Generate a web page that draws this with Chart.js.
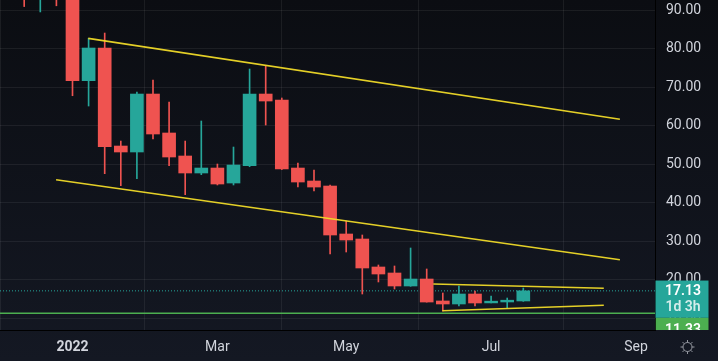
<!DOCTYPE html>
<html><head><meta charset="utf-8">
<script src="https://cdn.jsdelivr.net/npm/chart.js@4.4.1/dist/chart.umd.min.js"></script>
<style>
html,body{margin:0;padding:0;background:#0c0e14;overflow:hidden}
#wrap{width:718px;height:361px;position:relative}
canvas{display:block}
</style>
</head><body>
<div id="wrap"><canvas id="c" width="718" height="361"></canvas></div>
<script>
// ---- data (weekly candles) ----
const weeks = ['2021-12-13','2021-12-20','2021-12-27','2022-01-03','2022-01-10','2022-01-17','2022-01-24','2022-01-31',
  '2022-02-07','2022-02-14','2022-02-21','2022-02-28','2022-03-07','2022-03-14','2022-03-21','2022-03-28',
  '2022-04-04','2022-04-11','2022-04-18','2022-04-25','2022-05-02','2022-05-09','2022-05-16','2022-05-23',
  '2022-05-30','2022-06-06','2022-06-13','2022-06-20','2022-06-27','2022-07-04','2022-07-11','2022-07-18'];
const opens  = [100, 93, 103, 96, 71.66, 80.14, 54.71, 53.16, 68.2, 58.09, 52.12, 47.71, 49.0, 45.11, 49.6, 68.2,
  66.65, 49.0, 45.63, 44.33, 31.88, 30.58, 23.32, 21.76, 18.39, 20.2, 14.5, 13.72, 16.31, 14.0, 14.24, 14.5];
const highs  = [102, 106, 104, 97, 82.65, 84.03, 56.0, 68.72, 71.84, 66.13, 56.0, 61.2, 50.04, 54.45, 74.69, 75.47,
  67.17, 50.3, 48.48, 44.59, 35.25, 31.62, 23.84, 23.58, 28.25, 22.8, 16.57, 18.39, 17.09, 15.79, 15.27, 17.87];
const lows   = [90.9, 89.5, 91.1, 67.76, 65.09, 47.53, 44.42, 46.23, 56.53, 49.6, 42.08, 47.27, 44.6, 44.6, 49.34, 60.16,
  48.6, 44.07, 43.04, 26.69, 27.21, 16.31, 19.43, 17.61, 18.3, 14.2, 11.9, 13.2, 13.2, 13.98, 12.68, 14.4];
const closes = [95, 103, 96, 71.66, 80.14, 54.53, 53.16, 68.2, 57.83, 51.86, 47.71, 49.0, 44.85, 49.78, 68.2, 66.39,
  48.74, 45.37, 44.07, 31.62, 30.32, 23.06, 21.5, 18.39, 20.2, 14.23, 13.72, 16.31, 13.98, 14.45, 14.7, 17.13];

// x-axis month ticks (first weekly bar of the month)
const tickDates  = ['2022-01-03','2022-03-07','2022-05-02','2022-07-04','2022-09-05'];
const tickLabels = ['2022','Mar','May','Jul','Sep'];
const yTicks = [10,20,30,40,50,60,70,80,90];

// drawn trend lines: [weekOffset, price]
const trendUpper  = [[0.98, 82.65], [34.0, 61.64]];
const trendLower  = [[-1.02, 45.97], [34.0, 25.21]];
const wedgeUpper  = [[22.41, 18.90], [33.0, 17.79]];
const wedgeLower  = [[22.97, 11.98], [33.0, 13.38]];

const lastPrice = 17.13;
const lastCountdown = '1d 3h';
const levelPrice = 11.33;

// visible window (in weeks from 2022-01-03) and price range
const xView = [-4.503, 36.18];
const yView = [6.97, 92.6];

// ---- helpers ----
const base = Date.parse('2022-01-03');
const wk = d => Math.round((Date.parse(d) - base) / (7 * 864e5));
const xs = weeks.map(wk);
const tickPos = tickDates.map(wk);

const UP = '#26a69a', DOWN = '#ef5350';
const colors = closes.map((c, i) => c >= opens[i] ? UP : DOWN);

const wickData = xs.map((x, i) => ({x, y: [lows[i], highs[i]]}));
const bodyData = xs.map((x, i) => ({x, y: [Math.min(opens[i], closes[i]), Math.max(opens[i], closes[i])]}));
const seg = a => a.map(p => ({x: p[0], y: p[1]}));
const hline = v => [{x: xView[0], y: v}, {x: xView[1], y: v}];

const YEL = 'rgba(240,218,40,0.95)';

const bgPlugin = {
  id: 'bg',
  beforeDraw(chart) {
    const ctx = chart.ctx;
    const g = ctx.createLinearGradient(0, 0, 0, chart.height);
    g.addColorStop(0, '#0b0d12');
    g.addColorStop(1, '#141823');
    ctx.save();
    ctx.fillStyle = g;
    ctx.fillRect(0, 0, chart.width, chart.height);
    ctx.restore();
  }
};

const labelPlugin = {
  id: 'labels',
  afterDraw(chart) {
    const ctx = chart.ctx;
    const y = chart.scales.y;
    const area = chart.chartArea;
    const left = area.right + 0.5;
    const w = 53;
    ctx.save();
    // last price box
    const py = y.getPixelForValue(lastPrice);
    const top = py - 10.3;
    ctx.fillStyle = UP;
    ctx.fillRect(left, top, w, 37.3);
    ctx.fillStyle = '#ffffff';
    ctx.font = '600 14px Roboto';
    ctx.textAlign = 'center';
    ctx.textBaseline = 'middle';
    ctx.fillText(lastPrice.toFixed(2), left + w / 2 + 1, top + 11);
    ctx.fillStyle = 'rgba(255,255,255,0.8)';
    ctx.fillText(lastCountdown, left + w / 2 + 1, top + 27);
    // level box (pushed below, clipped by the time axis)
    ctx.save();
    ctx.beginPath();
    ctx.rect(left, 0, w + 2, area.bottom);
    ctx.clip();
    const ltop = top + 37.3;
    ctx.fillStyle = '#4caf50';
    ctx.fillRect(left, ltop, w, 22);
    ctx.fillStyle = '#ffffff';
    ctx.fillText(levelPrice.toFixed(2), left + w / 2 + 1, ltop + 13);
    ctx.restore();
    // gear icon
    const cx = 687.5, cy = 347;
    ctx.strokeStyle = '#9598a1';
    ctx.lineWidth = 1;
    ctx.beginPath();
    ctx.arc(cx, cy, 4.5, 0, Math.PI * 2);
    ctx.stroke();
    for (let k = 0; k < 8; k++) {
      const a = k * Math.PI / 4;
      ctx.beginPath();
      ctx.moveTo(cx + Math.cos(a) * 4.5, cy + Math.sin(a) * 4.5);
      ctx.lineTo(cx + Math.cos(a) * 7, cy + Math.sin(a) * 7);
      ctx.stroke();
    }
    ctx.restore();
  }
};

Chart.defaults.font.family = 'Roboto';

new Chart(document.getElementById('c'), {
  type: 'bar',
  data: {
    datasets: [
      {type: 'line', data: seg(trendUpper), borderColor: YEL, borderWidth: 1.6, pointRadius: 0, order: 0, clip: 0},
      {type: 'line', data: seg(trendLower), borderColor: YEL, borderWidth: 1.6, pointRadius: 0, order: 0, clip: 0},
      {type: 'line', data: seg(wedgeUpper), borderColor: YEL, borderWidth: 1.6, pointRadius: 0, order: 0, clip: 0},
      {type: 'line', data: seg(wedgeLower), borderColor: YEL, borderWidth: 1.6, pointRadius: 0, order: 0, clip: 0},
      {type: 'bar', data: bodyData, backgroundColor: colors, barThickness: 13, grouped: false, order: 1, clip: 0, minBarLength: 1},
      {type: 'bar', data: wickData, backgroundColor: colors, barThickness: 1, grouped: false, order: 2, clip: 0},
      {type: 'line', data: hline(lastPrice), borderColor: UP, borderWidth: 1, borderDash: [1, 2], pointRadius: 0, order: 3, clip: 0},
      {type: 'line', data: hline(levelPrice), borderColor: '#4caf50', borderWidth: 1.5, pointRadius: 0, order: 3, clip: 0}
    ]
  },
  options: {
    responsive: false,
    devicePixelRatio: 1,
    animation: false,
    events: [],
    layout: {padding: 0},
    plugins: {legend: {display: false}, tooltip: {enabled: false}},
    scales: {
      x: {
        type: 'linear',
        bounds: 'data',
        min: xView[0], max: xView[1],
        offset: false,
        afterBuildTicks(s) { s.ticks = tickPos.map(v => ({value: v})); },
        afterFit(s) { s.height = 31; s.paddingLeft = 0; s.paddingRight = 0; },
        grid: {color: 'rgba(255,255,255,0.065)', drawTicks: false, lineWidth: 1},
        border: {display: true, color: '#000', width: 1},
        ticks: {
          autoSkip: false, maxRotation: 0, padding: 9,
          color: '#d1d4dc',
          font: c => ({family: 'Roboto', size: 14, weight: (c.tick && c.tick.value === 0) ? 'bold' : 'normal'}),
          callback: v => tickLabels[tickPos.indexOf(v)]
        }
      },
      y: {
        type: 'linear',
        position: 'right',
        bounds: 'data',
        min: yView[0], max: yView[1],
        afterBuildTicks(s) { s.ticks = yTicks.map(v => ({value: v})); },
        afterFit(s) { s.width = 63; s.paddingTop = 0; s.paddingBottom = 0; },
        grid: {color: 'rgba(255,255,255,0.065)', drawTicks: false, lineWidth: 1},
        border: {display: true, color: '#000', width: 1},
        ticks: {
          padding: 11, color: '#d1d4dc',
          font: {family: 'Roboto', size: 14},
          callback: v => v.toFixed(2)
        }
      }
    }
  },
  plugins: [bgPlugin, labelPlugin]
});
</script>
</body></html>
